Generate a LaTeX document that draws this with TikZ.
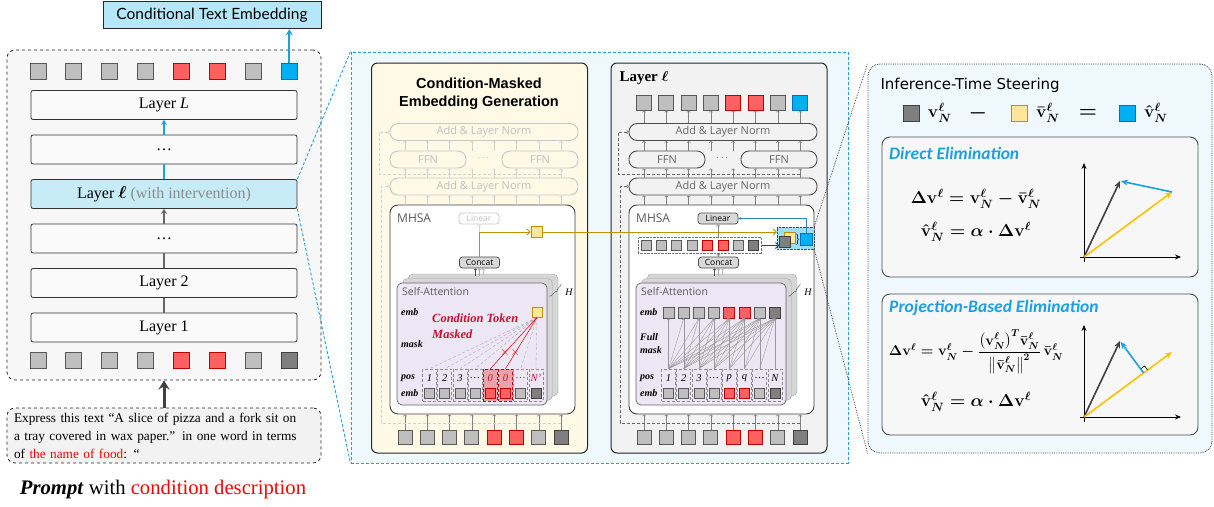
\documentclass[tikz,border=0pt]{standalone}
\usepackage{amsmath}
\usepackage{amssymb}
\usepackage{bm}
\usepackage{fontspec}
\setmainfont{Liberation Serif}
\setsansfont{Liberation Sans}
\newfontfamily\headfont{Lato}
\newfontfamily\thinfont{Open Sans}
\newfontfamily\steerfont{DejaVu Sans}
\newfontfamily\calfont{Carlito}
\usetikzlibrary{arrows.meta, positioning, calc, fit, backgrounds, decorations.pathreplacing}
\definecolor{cTok}{RGB}{191,191,191}
\definecolor{cTokLine}{RGB}{89,89,89}
\definecolor{cRed}{RGB}{255,97,97}
\definecolor{cRedLine}{RGB}{192,0,0}
\definecolor{cDark}{RGB}{127,127,127}
\definecolor{cDarkLine}{RGB}{64,64,64}
\definecolor{cBlue}{RGB}{0,176,240}
\definecolor{cBlueLine}{RGB}{0,112,192}
\definecolor{cYel}{RGB}{255,230,153}
\definecolor{cGold}{RGB}{191,144,0}
\definecolor{cAmber}{RGB}{255,192,0}
\definecolor{cSky}{RGB}{27,161,226}
\definecolor{cLayerHl}{RGB}{200,235,248}
\definecolor{cEmbBox}{RGB}{180,232,249}
\definecolor{cPanel}{RGB}{238,248,253}
\definecolor{cCream}{RGB}{255,249,230}
\definecolor{cLav}{RGB}{237,231,245}
\definecolor{cPink}{RGB}{233,163,172}
\definecolor{cMaskRed}{RGB}{200,16,46}
\definecolor{cLink}{RGB}{46,134,193}
\definecolor{cHl}{RGB}{158,221,245}
\newcommand{\vv}{\mathbf{v}}
\tikzset{
	tok/.style      ={rectangle, draw=cTokLine, fill=cTok, line width=0.9pt, minimum size=15pt, inner sep=0pt},
	tokred/.style   ={tok, draw=cRedLine, fill=cRed},
	tokdark/.style  ={tok, draw=cDarkLine, fill=cDark},
	tokblue/.style  ={tok, draw=cBlueLine, fill=cBlue},
	tokyel/.style   ={tok, draw=cGold, fill=cYel},
	layerbox/.style ={rectangle, rounded corners=2pt, draw=black!80, fill=black!2, line width=0.8pt, minimum width=266pt, minimum height=29pt, font=\fontsize{16}{18}\selectfont},
	panel/.style    ={rectangle, rounded corners=6pt, draw=black!85, line width=1pt, minimum width=216pt, minimum height=390pt},
	% encoder block styles
	upper/.style    ={draw=black!70, text=black!60},
	normbox/.style  ={rectangle, rounded corners=8pt, upper, line width=0.9pt, minimum width=188pt, minimum height=17pt, inner sep=0pt, font=\thinfont\fontsize{11}{12}\selectfont},
	ffnbox/.style   ={normbox, minimum width=76pt},
	smallbox/.style ={rectangle, rounded corners=3pt, draw=black!70, fill=black!15, line width=0.7pt, minimum width=40pt, minimum height=11pt, inner sep=0pt, font=\thinfont\fontsize{8.5}{9}\selectfont},
	linearbox/.style={smallbox},
	thinlab/.style  ={font=\thinfont\fontsize{11}{12}\selectfont, text=black!65, inner sep=0pt, anchor=west},
	sidelab/.style  ={font=\bfseries\itshape\fontsize{10}{13}\selectfont, inner sep=0pt, anchor=west, align=left},
	card/.style     ={rectangle, rounded corners=5pt, draw=black!35, fill=black!16, minimum width=150pt, minimum height=122pt},
	cell/.style     ={rectangle, densely dashed, draw=black!45, line width=0.5pt, minimum width=14pt, minimum height=32pt, inner sep=0pt},
	hlcell/.style   ={cell},
	tick/.style     ={-{Straight Barb[length=1.5pt,width=3.5pt]}, black!50, line width=0.5pt},
	uptick/.style   ={tick},
	resid/.style    ={densely dashed, black!60, line width=0.5pt, -{Straight Barb[length=1.5pt,width=3.5pt]}},
	attline/.style  ={densely dashed, black!35, line width=0.35pt},
	causal/.style   ={-{Straight Barb[length=1.5pt,width=3pt]}, black!40, line width=0.35pt},
	goldarrow/.style={-{Straight Barb[length=3pt,width=6pt]}, cGold, line width=0.9pt},
	% steering panel styles
	subbox/.style   ={rectangle, rounded corners=8pt, draw=black!70, fill=black!3, line width=0.9pt, minimum width=316pt, minimum height=140pt},
	subtitle/.style ={anchor=west, inner sep=0pt, font=\calfont\bfseries\itshape\fontsize{17.5}{20}\selectfont, text=cSky},
	eqn/.style      ={font=\fontsize{16.5}{19}\selectfont\boldmath},
	axis/.style     ={-{Stealth[length=6pt,width=5pt]}, black, line width=0.7pt},
	vec/.style      ={-{Stealth[length=7pt,width=6pt]}, line width=1.6pt},
	% one transformer layer, drawn in the frame of the left copy
	encoder/.pic={
		% feed-forward half
		\node[normbox] (norm1) at (484,132) {Add \& Layer Norm};
		\node[ffnbox] (ffn1) at (428,159.5) {FFN};
		\node[ffnbox] (ffn2) at (540,159.5) {FFN};
		\node[upper, draw=none, inner sep=0pt] (dots) at (484,158) {$\cdots$};
		\node[normbox] (norm2) at (484,186.5) {Add \& Layer Norm};
		% attention half
		\node[rectangle, rounded corners=8pt, draw=black!75, fill=white, line width=0.9pt, minimum width=185pt, minimum height=209pt] (mhsa) at (482.5,309.5) {};
		\node[thinlab, font=\thinfont\fontsize{12}{13}\selectfont] (mhsalab) at (397,218) {MHSA};
		\node[linearbox] (linear) at (479,218.5) {Linear};
		\node[smallbox] (concat) at (479.5,262.5) {Concat};
		\node[card] (card3) at (483,335) {};
		\node[card] (card2) at (477.5,339.5) {};
		\node[card, fill=cLav, draw=black!60, line width=0.7pt] (card1) at (472,344) {};
		\foreach \dx/\c in {-4/70,0/35,4/25}
			\draw[-{Straight Barb[length=1.5pt,width=3pt]}, black!\c, line width=0.5pt] ($(concat.south)+(\dx,8)$) -- ($(concat.south)+(\dx,0)$);
		\draw[black!70, decorate, decoration={brace, amplitude=3pt}] (561,283) -- (549,296);
		\node[font=\itshape\fontsize{10}{10}\selectfont, inner sep=0pt] (heads) at (569,292) {H};
		\node[thinlab, font=\thinfont\fontsize{10.5}{12}\selectfont] (salab) at (402,292) {Self-Attention};
		\node[sidelab] (lemb) at (401,312) {emb};
		\node[sidelab] (lpos) at (401,378) {pos};
		\node[sidelab] (lemb2) at (401,393) {emb};
		\foreach \c [count=\i] in {cell,cell,cell,cell,hlcell,hlcell,cell,cell}
			\node[\c] (cell\i) at ({429.5+(\i-1)*15.2},385) {};
		\foreach \s [count=\i] in {tok,tok,tok,tok,tokred,tokred,tok,tokdark}
			\node[\s, minimum size=10pt, line width=0.7pt] (emb\i) at ({429.5+(\i-1)*15.2},393) {};
		% inputs and the little arrows between sub-layers
		\foreach \s [count=\i] in {tok,tok,tok,tok,tokred,tokred,tok,tokdark} {
			\node[\s, minimum size=14pt] (in\i) at ({405+(\i-1)*22.3},437) {};
			\coordinate (col\i) at ({405+(\i-1)*22.3},0);
			\draw[tick] (in\i.north) -- (in\i.north |- mhsa.south);
			\draw[uptick] (col\i |- mhsa.north) -- (col\i |- norm2.south);
			\draw[uptick] (col\i |- norm2.north) -- (col\i |- ffn1.south);
			\draw[uptick] (col\i |- ffn1.north) -- (col\i |- norm1.south);
		}
		% residual paths
		\draw[resid] (561,423) -- (381,423) |- (norm2.west);
		\draw[resid] (561,174) -- (379,174) |- (norm1.west);
	}
}

\begin{document}
\begin{tikzpicture}[x=1pt, y=-1pt]
	\useasboundingbox (0,0) rectangle (1214,506);
	% left: the whole model
	\node[rectangle, rounded corners=8pt, dashed, draw=black!85, fill=black!3, line width=0.8pt, minimum width=314pt, minimum height=330pt] (stack) at (164,215) {};
	\node[rectangle, draw=black!85, fill=cEmbBox, line width=0.9pt, minimum width=218pt, minimum height=27.5pt, font=\headfont\fontsize{15.5}{17}\selectfont] (cte) at (212,15) {Conditional Text Embedding};
	\node[layerbox] (layerL) at (164,105) {Layer \textit{L}};
	\node[layerbox] (dotsA) at (164,149.5) {\dots};
	\node[layerbox, fill=cLayerHl] (layerl) at (164,194) {Layer $\bm{\ell}$ \textcolor{black!45}{(with intervention)}};
	\node[layerbox] (dotsB) at (164,238.5) {\dots};
	\node[layerbox] (layer2) at (164,283) {Layer 2};
	\node[layerbox] (layer1) at (164,327.5) {Layer 1};
	\foreach \s [count=\i] in {tok,tok,tok,tok,tokred,tokred,tok,tokblue}
		\node[\s, minimum size=16pt] (out\i) at ({38+(\i-1)*35.9},71) {};
	\foreach \s [count=\i] in {tok,tok,tok,tok,tokred,tokred,tok,tokdark}
		\node[\s, minimum size=16pt] (inp\i) at ({38+(\i-1)*35.9},360.5) {};
	\draw[-{Stealth[length=6pt,width=7pt]}, cSky, line width=2.2pt] (out8.north) -- (out8.north |- cte.south);
	\draw[-{Stealth[length=5pt,width=6pt]}, cSky, line width=2pt] (dotsA.north) -- (layerL.south);
	\draw[cSky, line width=2pt] (layerl.north) -- (dotsA.south);
	\draw[-{Stealth[length=5pt,width=6pt]}, black!60, line width=2pt] (dotsB.north) -- (layerl.south);
	\draw[black!60, line width=2pt] (layer2.north) -- (dotsB.south);
	\draw[black!60, line width=2pt] (layer1.north) -- (layer2.south);
	% prompt
	\node[rectangle, rounded corners=8pt, dashed, draw=black!85, fill=black!5, line width=0.8pt, minimum width=314pt, minimum height=55pt, text width=300pt, inner xsep=7pt, align=left, font=\fontsize{13.3}{18}\selectfont] (prompt) at (164,435.5) {Express this text “A slice of pizza and a fork sit on\\ a tray covered in wax paper.” in one word in terms\\ of \textcolor{red}{the name of food}: “};
	\draw[-{Stealth[length=9pt,width=11pt]}, black!75, line width=3pt] (prompt.north) -- (stack.south);
	\node[font=\fontsize{20.7}{24}\selectfont] (caption) at (163,490) {\textbf{\textit{Prompt}} with \textcolor{red}{condition description}};

	% middle: inside layer l
	\node[rectangle, densely dashed, draw=cSky, fill=cPanel, line width=1pt, minimum width=497pt, minimum height=411pt] (mid) at (599.5,257.5) {};
	\draw[cSky, densely dashed, line width=0.9pt] (layerl.north east) -- (mid.north west);
	\draw[cSky, densely dashed, line width=0.9pt] (layerl.south east) -- (mid.south west);
	\node[panel, fill=cCream] (ypanel) at (479.5,258) {};
	\node[panel, fill=black!5] (rpanel) at (719,258) {};
	\pic[upper/.style={draw=black!22, text=black!25}, uptick/.style={tick, black!18}, linearbox/.style={smallbox, fill=none, draw=black!22, text=black!25},
		resid/.style={densely dashed, black!18, line width=0.5pt, -{Straight Barb[length=1.5pt,width=3.5pt]}}, hlcell/.style={cell, fill=cPink, draw=cRedLine}] (Y) at (0,0) {encoder};
	\pic (R) at (239,0) {encoder};

	% condition-masked branch
	\node[font=\sffamily\bfseries\fontsize{14.5}{18}\selectfont, align=center] (ytitle) at (479,94) {Condition-Masked\\Embedding Generation};
	\node[tokyel, minimum size=11pt] (ysq) at (536.5,232) {};
	\draw[goldarrow] (Yconcat.north) |- (ysq.west);
	\draw[uptick, black!18] (Ylinear.south |- ysq.west) -- (Ylinear.south);
	\node[sidelab] (ymask) at (401,344) {mask};
	\node[tokyel, minimum size=10pt] (yq) at (537,312) {};
	\node[font=\bfseries\itshape\fontsize{12.5}{16}\selectfont, text=cMaskRed, align=left, anchor=west, inner sep=0pt] (ynote) at (432,326) {Condition Token\\Masked};
	\foreach \i in {1,2,3,4,7,8}
		\draw[attline] (yq.south) -- (Ycell\i.north);
	\foreach \i in {5,6}
		\draw[red!85!black, line width=0.5pt] (yq.south) -- (Ycell\i.north) node[pos=0.69, text=red, font=\fontsize{12}{12}\selectfont, inner sep=0pt] {$\times$};
	\foreach \t/\c [count=\i] in {1/black,2/black,3/black,{\dots}/black,0/cMaskRed,0/cMaskRed,{\dots}/cMaskRed,N'/cMaskRed}
		\node[font=\itshape\fontsize{10.5}{12}\selectfont, text=\c, inner sep=0pt] (ylab\i) at ($(Ycell\i.center)+(0,-7)$) {\t};

	% steered branch
	\node[font=\bfseries\fontsize{15}{18}\selectfont, anchor=west] (rtitle) at (616,78) {Layer $\bm{\ell}$};
	\foreach \s [count=\i] in {tok,tok,tok,tok,tokred,tokred,tok,tokblue} {
		\node[\s] (rtop\i) at ({644+(\i-1)*22.3},102.5) {};
		\draw[tick] (rtop\i.south |- Rnorm1.north) -- (rtop\i.south);
	}
	\foreach \s [count=\i] in {tok,tok,tok,tok,tokred,tokred,tok,tokdark}
		\node[\s, minimum size=10pt, line width=0.7pt] (rsq\i) at ({646+(\i-1)*15.4},245.5) {};
	\node[rectangle, densely dotted, draw=black!55, fit=(rsq1)(rsq8), inner sep=2.5pt] (rowbox) {};
	\draw[tick] (Rconcat.north) -- (Rconcat.north |- rowbox.south);
	\draw[tick] (Rlinear.south |- rowbox.north) -- (Rlinear.south);
	\node[rectangle, fill=cHl, draw=black!70, densely dotted, minimum width=37pt, minimum height=22pt] (hl) at (795.5,238) {};
	\node[tokyel, minimum size=11pt] (vbar) at (789.5,237.5) {};
	\node[tokdark, minimum size=11pt] (vraw) at (785,242) {};
	\node[inner sep=0pt, font=\fontsize{11}{11}\selectfont] (vbrace) at (797.5,239.5) {$\}$};
	\node[tokblue, minimum size=12pt] (vhat) at (806,239.5) {};
	\draw[-{Straight Barb[length=3pt,width=6pt]}, black!75, line width=0.8pt] (rowbox.east) -- (rowbox.east -| vraw.west);
	\draw[goldarrow] (ysq.east) -- (ysq.east -| hl.west);
	\draw[-{Stealth[length=3pt,width=3pt]}, cLink, line width=0.8pt] (vhat.north) |- (Rlinear.east);
	\node[sidelab] (rmask) at (640,343.5) {Full\\mask};
	\foreach \s [count=\i] in {tok,tok,tok,tok,tokred,tokred,tok,tokdark}
		\node[\s, minimum size=11pt, line width=0.7pt] (remb\i) at ({668.5+(\i-1)*15.2},312.5) {};
	\foreach \j in {1,...,8}
		\foreach \i in {1,...,\j}
			\draw[causal] (Rcell\i.north) -- (remb\j.south);
	\foreach \t [count=\i] in {1,2,3,{\dots},p,q,{\dots},N}
		\node[font=\itshape\fontsize{10.5}{12}\selectfont, inner sep=0pt] (rlab\i) at ($(Rcell\i.center)+(0,-7)$) {\t};

	% right: steering
	\node[rectangle, rounded corners=12pt, densely dotted, draw=black!75, fill=cPanel, line width=0.8pt, minimum width=344pt, minimum height=389pt] (steer) at (1040,258.5) {};
	\draw[densely dotted, black!80, line width=0.7pt] (hl.north east) -- (steer.north west);
	\draw[densely dotted, black!80, line width=0.7pt] (hl.south east) -- (steer.south west);
	\node[font=\steerfont\fontsize{15}{18}\selectfont, anchor=west] (stitle) at (877,85) {Inference-Time Steering};
	\node[tokdark, minimum size=16pt] (lgraw) at (911,113) {};
	\node[eqn, font=\fontsize{18}{20}\selectfont\boldmath, right=5pt of lgraw] (lgrawt) {$\vv_N^{\ell}$};
	\node[font=\fontsize{20}{20}\selectfont] (lgminus) at (978,113) {$\bm{-}$};
	\node[tokyel, minimum size=16pt] (lgbar) at (1019,113) {};
	\node[eqn, font=\fontsize{18}{20}\selectfont\boldmath, right=5pt of lgbar] (lgbart) {$\bar{\vv}_N^{\ell}$};
	\node[font=\fontsize{20}{20}\selectfont] (lgeq) at (1088,113) {$\bm{=}$};
	\node[tokblue, minimum size=16pt] (lghat) at (1127,113) {};
	\node[eqn, font=\fontsize{18}{20}\selectfont\boldmath, right=5pt of lghat] (lghatt) {$\hat{\vv}_N^{\ell}$};
	% direct elimination
	\node[subbox] (direct) at (1040,207) {};
	\node[subtitle] (dtitle) at (889,153) {Direct Elimination};
	\node[eqn] (deq1) at (976,199) {$\Delta\vv^{\ell}=\vv_N^{\ell}-\bar{\vv}_N^{\ell}$};
	\node[eqn] (deq2) at (976,232) {$\hat{\vv}_N^{\ell}=\alpha\cdot\Delta\vv^{\ell}$};
	\coordinate (o1) at (1084,257);
	\coordinate (d1) at (1120,181);
	\coordinate (y1) at (1172,192);
	\draw[axis] (1084,262) -- (1084,163);
	\draw[axis] (1080,257) -- (1181,257);
	\draw[vec, black!75] (o1) -- (d1);
	\draw[vec, cAmber] (o1) -- (y1);
	\draw[vec, cSky, shorten >=1pt] (y1) -- (d1);
	% projection-based elimination
	\node[subbox, minimum height=141pt] (proj) at (1040,364.5) {};
	\node[subtitle] (ptitle) at (889,308) {Projection-Based Elimination};
	\node[eqn, font=\fontsize{13.6}{16}\selectfont\boldmath] (peq1) at (976,352) {$\Delta\vv^{\ell}=\vv_N^{\ell}-\dfrac{\bigl(\vv_N^{\ell}\bigr)^{T}\bar{\vv}_N^{\ell}}{\bigl\|\bar{\vv}_N^{\ell}\bigr\|^{2}}\,\bar{\vv}_N^{\ell}$};
	\node[eqn] (peq2) at (976,402) {$\hat{\vv}_N^{\ell}=\alpha\cdot\Delta\vv^{\ell}$};
	\coordinate (o2) at (1084,417);
	\coordinate (d2) at (1120,341);
	\coordinate (y2) at (1172,352);
	\coordinate (f2) at ($(o2)!(d2)!(y2)$);
	\coordinate (ra) at ($(f2)!5pt!(d2)$);
	\coordinate (rb) at ($(f2)!5pt!(y2)$);
	\draw[axis] (1084,422) -- (1084,325);
	\draw[axis] (1080,417) -- (1181,417);
	\draw[vec, black!75] (o2) -- (d2);
	\draw[vec, cAmber] (o2) -- (y2);
	\draw[black, line width=0.6pt] (ra) -- ($(ra)+(rb)-(f2)$) -- (rb);
	\draw[vec, cSky, shorten >=1pt] (f2) -- (d2);
\end{tikzpicture}
\end{document}
